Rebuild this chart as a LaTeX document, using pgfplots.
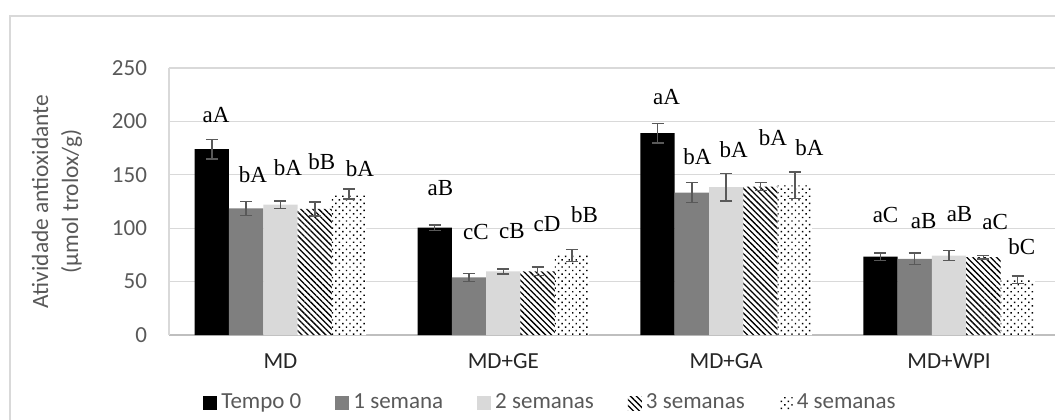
\documentclass[border=0pt]{standalone}
\usepackage{pgfplots}
\pgfplotsset{compat=1.18}
\usepackage{pgfplotstable}
\usepackage{fontspec}
\setmainfont{Carlito}
\newfontfamily\timesf{Liberation Serif}
\usetikzlibrary{patterns.meta}
\definecolor{txtgray}{HTML}{595959}
\definecolor{gridgray}{HTML}{D9D9D9}
\definecolor{axgray}{HTML}{BFBFBF}
\definecolor{barA}{HTML}{7F7F7F}
\definecolor{barB}{HTML}{D9D9D9}

\pgfplotstableread{
x v0 e0 v1 e1 v2 e2 v3 e3 v4 e4
0 174 9 118.5 6.5 122 3.5 118 6.7 132 4.5
1 100.5 2.6 54 3.7 59.5 2.3 59.5 4 74.5 5.5
2 189 9 133.4 9.2 138.4 13 138.9 3.7 140 12.4
3 73.3 3.7 71.4 5.2 74.3 4.7 72.9 1.7 51.8 3.4
}\data

\pgfplotstableread{
lx ly lab
-0.289 206.0 aA
-0.123 149.8 bA
0.034 156.4 bA
0.186 162.3 bB
0.357 155.4 bA
0.718 137.6 aB
0.877 96.4 cC
1.039 97.7 cB
1.196 103.9 cD
1.365 112.4 bB
1.732 222.6 aA
1.871 167.0 bA
2.034 173.9 bA
2.210 185.1 bA
2.374 175.7 bA
2.715 112.4 aC
2.886 107.0 aB
3.047 113.3 aB
3.207 105.5 aC
3.326 82.7 bC
}\labels

\pgfplotsset{
  mybar/.style={ybar, bar width=0.154, bar shift=#1, draw=none,
    legend image code/.code={\path[##1, draw=none] (0pt,-3.5pt) rectangle (7pt,3.5pt);}
  },
  myerr/.style={forget plot, draw=none, mark=none,
    error bars/y dir=both, error bars/y explicit,
    error bars/error bar style={draw=txtgray, line width=0.75pt},
    error bars/error mark options={rotate=90, mark size=3pt, draw=txtgray, line width=0.75pt}
  }
}

\begin{document}
\begin{tikzpicture}
\begin{axis}[
  scale only axis, width=445.75pt, height=133.5pt,
  xmin=-0.5, xmax=3.5, ymin=0, ymax=250,
  ytick={0,50,100,150,200,250},
  xtick={0,1,2,3}, xticklabels={MD,MD+GE,MD+GA,MD+WPI},
  ymajorgrids, major grid style={gridgray, line width=0.6pt},
  axis lines*=left,
  x axis line style={axgray, line width=0.75pt, -},
  y axis line style={gridgray, line width=0.6pt, -},
  major tick length=0pt,
  tick label style={font=\fontsize{11.5}{13.8}\selectfont},
  yticklabel style={text=txtgray, xshift=-7.5pt},
  xticklabel style={text=black!85, yshift=-6pt},
  /pgf/number format/assume math mode=true,
  ylabel={Atividade antioxidante\\(µmol trolox/g)},
  every axis y label/.style={at={(axis description cs:-0.1256,0.5)}, rotate=90, anchor=center, align=center, text=txtgray, font=\fontsize{11.7}{15}\selectfont},
  legend columns=5,
  legend style={at={(0.0381,0)}, anchor=west, yshift=-34pt, draw=none, fill=none, inner sep=0pt,
    font=\fontsize{11.5}{13.8}\selectfont, text=txtgray,
    /tikz/every even column/.append style={column sep=15pt}},
]
\addplot[mybar=-0.308, fill=black] table[x=x, y=v0] {\data};
\addlegendentry{Tempo 0}
\addplot[mybar=-0.154, fill=barA] table[x=x, y=v1] {\data};
\addlegendentry{1 semana}
\addplot[mybar=0, fill=barB] table[x=x, y=v2] {\data};
\addlegendentry{2 semanas}
\addplot[mybar=0.154, fill=white, postaction={pattern={Lines[angle=-45, distance=2.1pt, line width=0.65pt]}, pattern color=black}] table[x=x, y=v3] {\data};
\addlegendentry{3 semanas}
\addplot[mybar=0.308, fill=white, postaction={pattern={Dots[angle=45, distance=2.5pt, radius=0.5pt]}, pattern color=black}] table[x=x, y=v4] {\data};
\addlegendentry{4 semanas}
\addplot[myerr] table[x expr=\thisrow{x}-0.308, y=v0, y error=e0] {\data};
\addplot[myerr] table[x expr=\thisrow{x}-0.154, y=v1, y error=e1] {\data};
\addplot[myerr] table[x expr=\thisrow{x}, y=v2, y error=e2] {\data};
\addplot[myerr] table[x expr=\thisrow{x}+0.154, y=v3, y error=e3] {\data};
\addplot[myerr] table[x expr=\thisrow{x}+0.308, y=v4, y error=e4] {\data};
\addplot[draw=none, mark=none, forget plot, nodes near coords, point meta=explicit symbolic,
  nodes near coords style={anchor=center, font=\timesf\fontsize{11.5}{13}\selectfont, text=black}]
  table[x=lx, y=ly, meta=lab] {\labels};
\end{axis}
\draw[gridgray, line width=0.75pt] (-79.5pt,-100pt) rectangle (480pt,159.5pt);
\pgfresetboundingbox
\useasboundingbox (-84.5pt,-42pt) rectangle (443pt,167.5pt);
\end{tikzpicture}
\end{document}
